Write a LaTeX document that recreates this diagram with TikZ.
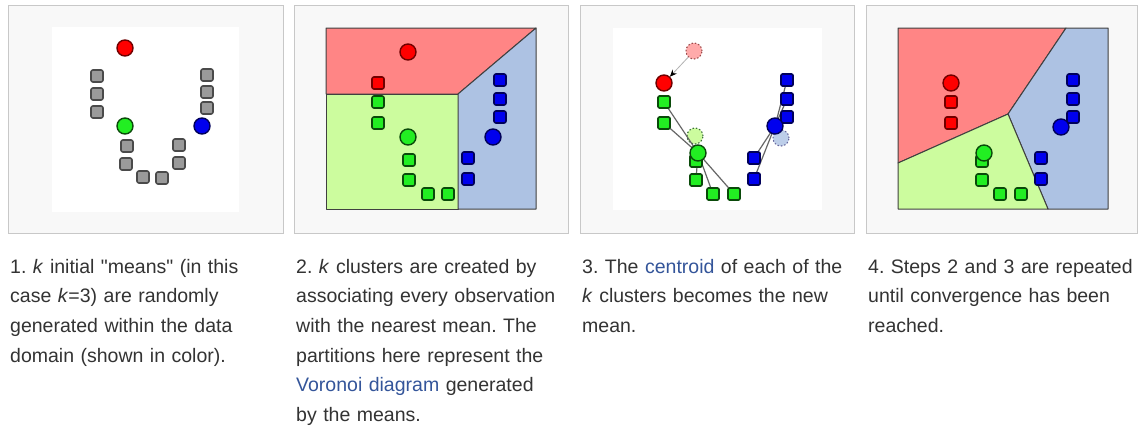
\documentclass[tikz,border=0pt]{standalone}
\usepackage{fontspec}
\setmainfont{Liberation Sans}
\usetikzlibrary{arrows.meta}
\definecolor{txt}{HTML}{333333}
\definecolor{lnk}{HTML}{34559A}
\definecolor{framebg}{HTML}{F8F8F8}
\definecolor{framebd}{HTML}{C8C8C8}
\definecolor{rfill}{HTML}{FF8585}
\definecolor{gfill}{HTML}{CCFC9E}
\definecolor{bfill}{HTML}{ADC2E3}
\definecolor{rpt}{HTML}{FF0000}
\definecolor{rbd}{HTML}{700000}
\definecolor{gpt}{HTML}{22EE22}
\definecolor{gbd}{HTML}{0A4A0A}
\definecolor{bpt}{HTML}{0000EE}
\definecolor{bbd}{HTML}{00005A}
\definecolor{graypt}{HTML}{9A9A9A}
\definecolor{graybd}{HTML}{4A4A4A}
\definecolor{edgecol}{HTML}{404040}
\tikzset{
  panelframe/.style={fill=framebg, draw=framebd, line width=0.8pt},
  ptbox/.style={rectangle, rounded corners=2pt, minimum size=12pt, inner sep=0pt, line width=1.6pt},
  graysq/.style={ptbox, fill=graypt, draw=graybd},
  redsq/.style={ptbox, fill=rpt, draw=rbd},
  greensq/.style={ptbox, fill=gpt, draw=gbd},
  bluesq/.style={ptbox, fill=bpt, draw=bbd},
  meandot/.style={circle, minimum size=16pt, inner sep=0pt, line width=1.4pt},
  redmean/.style={meandot, fill=rpt, draw=rbd},
  greenmean/.style={meandot, fill=gpt, draw=gbd},
  bluemean/.style={meandot, fill=bpt, draw=bbd},
  oldmean/.style={meandot, dotted, line width=1.1pt},
  regionpoly/.style={draw=edgecol, line width=1pt, line join=round},
  assignline/.style={draw=black!60, line width=1.2pt},
  captxt/.style={anchor=base west, align=left, text width=285pt, inner sep=0pt, text=txt,
    font=\fontsize{19.5}{29.7}\selectfont\frenchspacing}
}
\begin{document}
\begin{tikzpicture}[x=1pt,y=-1pt]
\useasboundingbox[fill=white] (0,0) rectangle (1139,431);

% frames
\draw[panelframe] (8,5) rectangle (283,233);
\draw[panelframe] (294,5) rectangle (568,233);
\draw[panelframe] (580,5) rectangle (854,233);
\draw[panelframe] (866,5) rectangle (1137.5,233);

% ---------------- panel 1
\fill[white] (52,27) rectangle (239,212);
\foreach \n/\x/\y in {1/97/76, 2/97/94, 3/97/112, 4/207/75, 5/207/92, 6/207/108,
  7/127/146, 8/126/164, 9/143/177, 10/162/178, 11/179/145, 12/179/163}
  \node[graysq] (a\n) at (\x,\y) {};
\node[redmean] (am1) at (125,48) {};
\node[greenmean] (am2) at (125,126) {};
\node[bluemean] (am3) at (202,126) {};

% ---------------- panel 2
\draw[regionpoly, fill=rfill] (326,28) -- (536,28) -- (458,94) -- (326,94) -- cycle;
\draw[regionpoly, fill=gfill] (326,94) -- (458,94) -- (458,209) -- (326,209) -- cycle;
\draw[regionpoly, fill=bfill] (458,94) -- (536,28) -- (536,209) -- (458,209) -- cycle;
\node[redsq] (br1) at (378,83) {};
\foreach \n/\x/\y in {1/378/102, 2/378/123, 3/409/160, 4/409/180, 5/428/194, 6/448/194}
  \node[greensq] (bg\n) at (\x,\y) {};
\foreach \n/\x/\y in {1/500/80, 2/500/99, 3/500/117, 4/468/158, 5/468/179}
  \node[bluesq] (bb\n) at (\x,\y) {};
\node[redmean] (bm1) at (408,52) {};
\node[greenmean] (bm2) at (408,137) {};
\node[bluemean] (bm3) at (493,137) {};

% ---------------- panel 3
\fill[white] (613,28) rectangle (822,210);
\node[oldmean, fill=rfill!70!white, draw=rbd!70] (co1) at (694,51) {};
\node[oldmean, fill=gfill, draw=gbd!80] (co2) at (695,136) {};
\node[oldmean, fill=bfill!80!white, draw=bbd!60] (co3) at (781,138) {};
\node[redmean] (cm1) at (664,83) {};
\draw[draw=black!30, line width=0.8pt, -{Stealth[black, length=7pt, width=6pt]}] (co1) -- (cm1);
\foreach \n/\x/\y in {1/664/102, 2/664/123, 3/696/161, 4/696/180, 5/713/194, 6/734/194}
  \node[greensq] (cg\n) at (\x,\y) {};
\foreach \n/\x/\y in {1/787/80, 2/787/99, 3/787/117, 4/754/158, 5/754/179}
  \node[bluesq] (cb\n) at (\x,\y) {};
\coordinate (cgc) at (698,153);
\coordinate (cbc) at (775,126);
\foreach \n in {1,...,6} \draw[assignline] (cgc) -- (cg\n.center);
\foreach \n in {1,...,5} \draw[assignline] (cbc) -- (cb\n.center);
\foreach \n in {1,...,6} \node[greensq] at (cg\n) {};
\foreach \n in {1,...,5} \node[bluesq] at (cb\n) {};
\node[greenmean] (cm2) at (cgc) {};
\node[bluemean] (cm3) at (cbc) {};

% ---------------- panel 4
\draw[regionpoly, fill=rfill] (898,28) -- (1066,28) -- (1008,114) -- (898,163) -- cycle;
\draw[regionpoly, fill=bfill] (1066,28) -- (1108,28) -- (1108,209) -- (1048,209) -- (1008,114) -- cycle;
\draw[regionpoly, fill=gfill] (898,163) -- (1008,114) -- (1048,209) -- (898,209) -- cycle;
\foreach \n/\x/\y in {1/951/102, 2/951/123}
  \node[redsq] (dr\n) at (\x,\y) {};
\foreach \n/\x/\y in {1/982/161, 2/982/180, 3/1000/194, 4/1021/194}
  \node[greensq] (dg\n) at (\x,\y) {};
\foreach \n/\x/\y in {1/1073/80, 2/1073/99, 3/1073/117, 4/1041/158, 5/1041/179}
  \node[bluesq] (db\n) at (\x,\y) {};
\node[redmean] (dm1) at (951,83) {};
\node[greenmean] (dm2) at (984,153) {};
\node[bluemean] (dm3) at (1061,127) {};

% ---------------- captions
\node[captxt] (t1) at (10,273) {1. \textit{k} initial \textquotedbl means\textquotedbl{} (in this\\case \textit{k}=3) are randomly\\generated within the data\\domain (shown in color).};
\node[captxt] (t2) at (296,273) {2. \textit{k} clusters are created by\\associating every observation\\with the nearest mean. The\\partitions here represent the\\\textcolor{lnk}{Voronoi diagram} generated\\by the means.};
\node[captxt] (t3) at (582,273) {3. The \textcolor{lnk}{centroid} of each of the\\\textit{k} clusters becomes the new\\mean.};
\node[captxt] (t4) at (868,273) {4. Steps 2 and 3 are repeated\\until convergence has been\\reached.};
\end{tikzpicture}
\end{document}
